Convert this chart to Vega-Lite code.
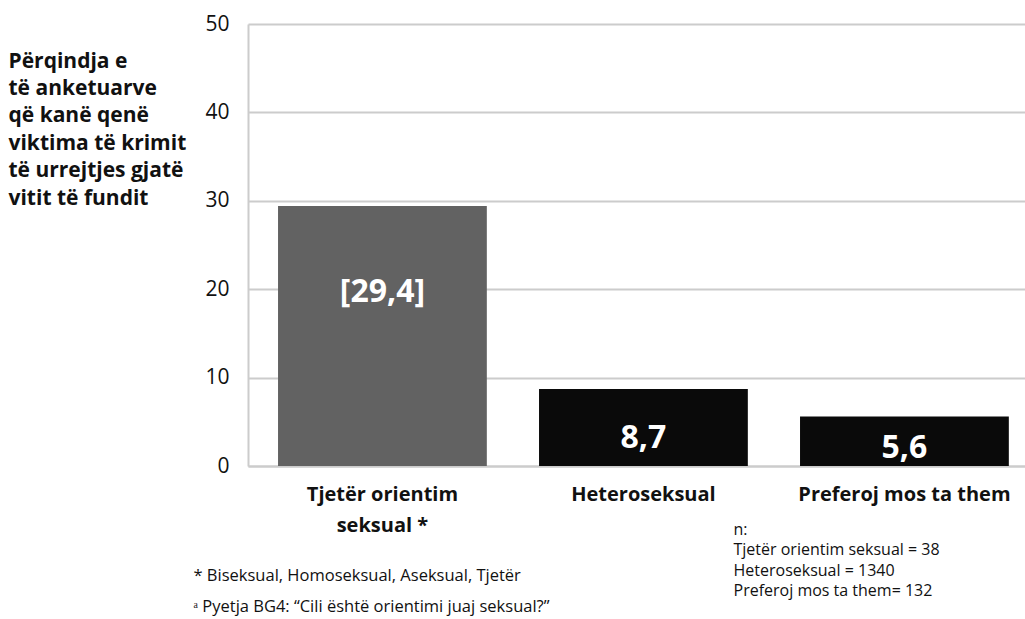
{
  "$schema": "https://vega.github.io/schema/vega-lite/v6.json",
  "autosize": {"type": "none"},
  "padding": {"left": 248, "top": 24, "right": 0, "bottom": 153},
  "width": 777,
  "height": 442,
  "background": "white",
  "config": {
    "font": "Open Sans",
    "view": {"stroke": null}
  },
  "data": {
    "values": [
      {"category": "Tjetër orientim seksual *", "value": 29.4, "label": "[29,4]", "group": "other"},
      {"category": "Heteroseksual", "value": 8.7, "label": "8,7", "group": "main"},
      {"category": "Preferoj mos ta them", "value": 5.6, "label": "5,6", "group": "main"}
    ]
  },
  "transform": [
    {"calculate": "datum.value > 20 ? datum.value * 0.67 : datum.value * 0.365", "as": "labelPos"}
  ],
  "encoding": {
    "x": {
      "field": "category",
      "type": "nominal",
      "sort": ["Tjetër orientim seksual *", "Heteroseksual", "Preferoj mos ta them"],
      "scale": {"paddingInner": 0.2, "paddingOuter": 0.0885, "align": 0.65},
      "axis": {
        "labelAngle": 0,
        "labelFont": "Open Sans",
        "labelFontSize": 20,
        "labelFontWeight": "bold",
        "labelColor": "#111111",
        "labelPadding": 18,
        "labelLineHeight": 31,
        "labelBaseline": "top",
        "labelLimit": 0,
        "labelExpr": "datum.label == 'Tjetër orientim seksual *' ? ['Tjetër orientim', 'seksual *'] : datum.label",
        "ticks": false,
        "domainColor": "#cccccc",
        "domainWidth": 2,
        "title": ["* Biseksual, Homoseksual, Aseksual, Tjetër", "ᵃ Pyetja BG4: “Cili është orientimi juaj seksual?”"],
        "titleFont": "Open Sans",
        "titleFontSize": 16.5,
        "titleFontWeight": "normal",
        "titleColor": "#111111",
        "titleAlign": "left",
        "titleAnchor": "start",
        "titleBaseline": "top",
        "titleLineHeight": 31,
        "titleX": -55,
        "titleY": 101
      }
    }
  },
  "layer": [
    {
      "mark": {"type": "bar"},
      "encoding": {
        "y": {
          "field": "value",
          "type": "quantitative",
          "scale": {"domain": [0, 50]},
          "axis": {
            "values": [0, 10, 20, 30, 40, 50],
            "grid": true,
            "gridColor": "#cccccc",
            "gridWidth": 2,
            "ticks": false,
            "domainColor": "#cccccc",
            "domainWidth": 2,
            "labelFont": "Open Sans",
            "labelFontSize": 21,
            "labelColor": "#111111",
            "labelPadding": 19,
            "title": ["Përqindja e", "të anketuarve", "që kanë qenë", "viktima të krimit", "të urrejtjes gjatë", "vitit të fundit"],
            "titleFont": "Open Sans",
            "titleFontSize": 21,
            "titleFontWeight": "bold",
            "titleColor": "#111111",
            "titleAngle": 0,
            "titleAlign": "left",
            "titleBaseline": "top",
            "titleLineHeight": 27.4,
            "titleX": -240,
            "titleY": 26
          }
        },
        "color": {
          "field": "group",
          "type": "nominal",
          "scale": {"domain": ["other", "main"], "range": ["#626262", "#0a0a0a"]},
          "legend": null
        }
      }
    },
    {
      "mark": {"type": "text", "color": "white", "font": "Open Sans", "fontSize": 32, "fontWeight": "bold", "baseline": "middle"},
      "encoding": {
        "y": {
          "field": "labelPos",
          "type": "quantitative",
          "scale": {"domain": [0, 50]},
          "axis": {
            "orient": "right",
            "labels": false,
            "ticks": false,
            "domain": false,
            "grid": false,
            "title": ["n:", "Tjetër orientim seksual = 38", "Heteroseksual = 1340", "Preferoj mos ta them= 132"],
            "titleFont": "Open Sans",
            "titleFontSize": 16,
            "titleFontWeight": "normal",
            "titleColor": "#111111",
            "titleAngle": 0,
            "titleAlign": "left",
            "titleBaseline": "top",
            "titleLineHeight": 20.5,
            "titleX": -292,
            "titleY": 497
          }
        },
        "text": {"field": "label"}
      }
    }
  ],
  "resolve": {"scale": {"y": "independent"}, "axis": {"y": "independent"}}
}
